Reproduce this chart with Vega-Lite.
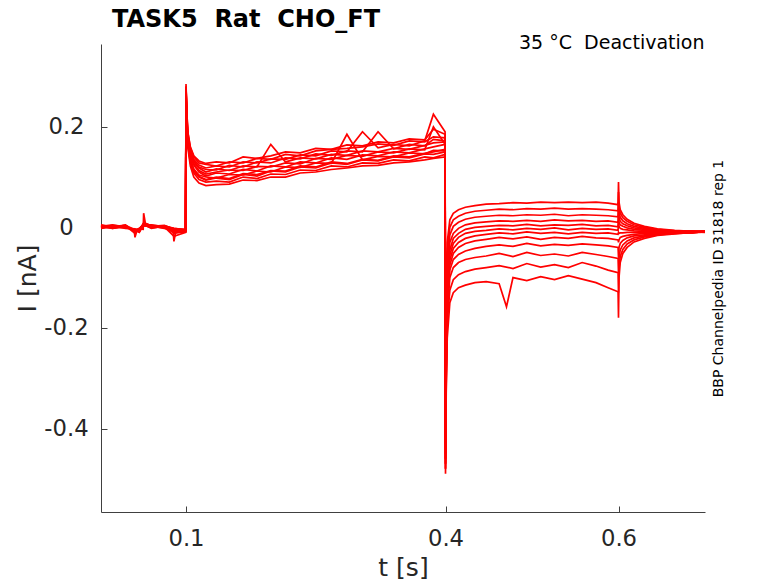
{
"$schema": "https://vega.github.io/schema/vega-lite/v6.json",
"width": 604,
"height": 468,
"autosize": {"type": "none"},
"padding": {"left": 101, "top": 44, "right": 73, "bottom": 71},
"title": {"text": "TASK5\u00a0 Rat\u00a0 CHO_FT", "anchor": "start", "frame": "group", "dx": 11, "offset": -17, "baseline": "alphabetic", "font": "DejaVu Sans", "fontSize": 24, "fontWeight": "bold", "color": "#000000"},
"config": {
  "view": {"stroke": null},
  "axis": {"grid": false, "labelFont": "DejaVu Sans", "titleFont": "DejaVu Sans", "labelColor": "#262626", "titleColor": "#262626", "domainColor": "#404040", "tickColor": "#404040", "domainWidth": 1, "tickWidth": 1, "titleFontWeight": "normal"}
},
"data": {"values": [
{"k":1,"t":0.0017,"i":0.003},{"k":1,"t":0.015,"i":0.001},{"k":1,"t":0.03,"i":0.004},{"k":1,"t":0.041,"i":-0.005},{"k":1,"t":0.046,"i":-0.003},{"k":1,"t":0.0505,"i":-0.004},{"k":1,"t":0.051,"i":0.028},{"k":1,"t":0.053,"i":0.008},{"k":1,"t":0.06,"i":0.003},{"k":1,"t":0.075,"i":0.001},{"k":1,"t":0.086,"i":-0.002},{"k":1,"t":0.0995,"i":-0.005},
{"k":1,"t":0.1,"i":0.285},{"k":1,"t":0.1008,"i":0.235},{"k":1,"t":0.102,"i":0.19},{"k":1,"t":0.105,"i":0.158},{"k":1,"t":0.109,"i":0.14},{"k":1,"t":0.115,"i":0.128},{"k":1,"t":0.123,"i":0.125},{"k":1,"t":0.135,"i":0.122},{"k":1,"t":0.15,"i":0.13},{"k":1,"t":0.166,"i":0.128},{"k":1,"t":0.182,"i":0.137},{"k":1,"t":0.198,"i":0.135},{"k":1,"t":0.215,"i":0.145},{"k":1,"t":0.232,"i":0.142},{"k":1,"t":0.25,"i":0.152},{"k":1,"t":0.268,"i":0.155},{"k":1,"t":0.286,"i":0.157},{"k":1,"t":0.304,"i":0.16},{"k":1,"t":0.322,"i":0.166},{"k":1,"t":0.34,"i":0.163},{"k":1,"t":0.358,"i":0.172},{"k":1,"t":0.376,"i":0.17},{"k":1,"t":0.386,"i":0.18},{"k":1,"t":0.3995,"i":0.178},
{"k":1,"t":0.4,"i":-0.4},{"k":1,"t":0.4008,"i":-0.15},{"k":1,"t":0.402,"i":-0.03},{"k":1,"t":0.405,"i":0.015},{"k":1,"t":0.409,"i":0.028},{"k":1,"t":0.415,"i":0.035},{"k":1,"t":0.423,"i":0.04},{"k":1,"t":0.434,"i":0.043},{"k":1,"t":0.447,"i":0.046},{"k":1,"t":0.462,"i":0.047},{"k":1,"t":0.478,"i":0.049},{"k":1,"t":0.494,"i":0.048},{"k":1,"t":0.51,"i":0.05},{"k":1,"t":0.526,"i":0.049},{"k":1,"t":0.542,"i":0.05},{"k":1,"t":0.558,"i":0.049},{"k":1,"t":0.574,"i":0.05},{"k":1,"t":0.588,"i":0.048},{"k":1,"t":0.5995,"i":0.045},
{"k":1,"t":0.6,"i":0.09},{"k":1,"t":0.6006,"i":0.05},{"k":1,"t":0.602,"i":0.035},{"k":1,"t":0.605,"i":0.025},{"k":1,"t":0.61,"i":0.016},{"k":1,"t":0.618,"i":0.008},{"k":1,"t":0.63,"i":0.002},{"k":1,"t":0.645,"i":-0.003},{"k":1,"t":0.665,"i":-0.006},{"k":1,"t":0.685,"i":-0.008},{"k":1,"t":0.7,"i":-0.007},
{"k":2,"t":0.0017,"i":-0.001},{"k":2,"t":0.015,"i":0.003},{"k":2,"t":0.03,"i":0.0},{"k":2,"t":0.04,"i":-0.004},{"k":2,"t":0.041,"i":-0.02},{"k":2,"t":0.043,"i":-0.008},{"k":2,"t":0.046,"i":-0.006},{"k":2,"t":0.051,"i":0.004},{"k":2,"t":0.06,"i":0.002},{"k":2,"t":0.075,"i":0.004},{"k":2,"t":0.086,"i":-0.004},{"k":2,"t":0.0995,"i":-0.007},
{"k":2,"t":0.1,"i":0.26},{"k":2,"t":0.1008,"i":0.21},{"k":2,"t":0.102,"i":0.165},{"k":2,"t":0.105,"i":0.128},{"k":2,"t":0.109,"i":0.108},{"k":2,"t":0.115,"i":0.095},{"k":2,"t":0.123,"i":0.09},{"k":2,"t":0.135,"i":0.092},{"k":2,"t":0.15,"i":0.09},{"k":2,"t":0.166,"i":0.1},{"k":2,"t":0.182,"i":0.097},{"k":2,"t":0.198,"i":0.106},{"k":2,"t":0.215,"i":0.105},{"k":2,"t":0.232,"i":0.114},{"k":2,"t":0.25,"i":0.113},{"k":2,"t":0.268,"i":0.122},{"k":2,"t":0.286,"i":0.12},{"k":2,"t":0.304,"i":0.128},{"k":2,"t":0.322,"i":0.127},{"k":2,"t":0.34,"i":0.134},{"k":2,"t":0.358,"i":0.132},{"k":2,"t":0.376,"i":0.14},{"k":2,"t":0.386,"i":0.138},{"k":2,"t":0.3995,"i":0.145},
{"k":2,"t":0.4,"i":-0.42},{"k":2,"t":0.4008,"i":-0.18},{"k":2,"t":0.402,"i":-0.05},{"k":2,"t":0.405,"i":0.0},{"k":2,"t":0.409,"i":0.015},{"k":2,"t":0.415,"i":0.022},{"k":2,"t":0.423,"i":0.028},{"k":2,"t":0.434,"i":0.032},{"k":2,"t":0.447,"i":0.034},{"k":2,"t":0.462,"i":0.036},{"k":2,"t":0.478,"i":0.035},{"k":2,"t":0.494,"i":0.037},{"k":2,"t":0.51,"i":0.036},{"k":2,"t":0.526,"i":0.038},{"k":2,"t":0.542,"i":0.036},{"k":2,"t":0.558,"i":0.037},{"k":2,"t":0.574,"i":0.036},{"k":2,"t":0.588,"i":0.035},{"k":2,"t":0.5995,"i":0.033},
{"k":2,"t":0.6,"i":0.07},{"k":2,"t":0.6006,"i":0.04},{"k":2,"t":0.602,"i":0.028},{"k":2,"t":0.605,"i":0.019},{"k":2,"t":0.61,"i":0.012},{"k":2,"t":0.618,"i":0.005},{"k":2,"t":0.63,"i":0.0},{"k":2,"t":0.645,"i":-0.004},{"k":2,"t":0.665,"i":-0.007},{"k":2,"t":0.685,"i":-0.009},{"k":2,"t":0.7,"i":-0.008},
{"k":3,"t":0.0017,"i":0.002},{"k":3,"t":0.015,"i":-0.002},{"k":3,"t":0.03,"i":0.003},{"k":3,"t":0.041,"i":-0.008},{"k":3,"t":0.046,"i":-0.004},{"k":3,"t":0.051,"i":0.006},{"k":3,"t":0.06,"i":0.004},{"k":3,"t":0.075,"i":0.0},{"k":3,"t":0.085,"i":-0.004},{"k":3,"t":0.086,"i":-0.028},{"k":3,"t":0.088,"i":-0.01},{"k":3,"t":0.0995,"i":-0.009},
{"k":3,"t":0.1,"i":0.275},{"k":3,"t":0.1008,"i":0.225},{"k":3,"t":0.102,"i":0.18},{"k":3,"t":0.105,"i":0.148},{"k":3,"t":0.109,"i":0.13},{"k":3,"t":0.115,"i":0.118},{"k":3,"t":0.123,"i":0.11},{"k":3,"t":0.135,"i":0.116},{"k":3,"t":0.15,"i":0.113},{"k":3,"t":0.166,"i":0.122},{"k":3,"t":0.182,"i":0.12},{"k":3,"t":0.198,"i":0.165},{"k":3,"t":0.215,"i":0.13},{"k":3,"t":0.232,"i":0.138},{"k":3,"t":0.25,"i":0.136},{"k":3,"t":0.268,"i":0.145},{"k":3,"t":0.286,"i":0.143},{"k":3,"t":0.304,"i":0.152},{"k":3,"t":0.322,"i":0.15},{"k":3,"t":0.34,"i":0.157},{"k":3,"t":0.358,"i":0.155},{"k":3,"t":0.376,"i":0.163},{"k":3,"t":0.386,"i":0.168},{"k":3,"t":0.3995,"i":0.17},
{"k":3,"t":0.4,"i":-0.43},{"k":3,"t":0.4008,"i":-0.2},{"k":3,"t":0.402,"i":-0.07},{"k":3,"t":0.405,"i":-0.015},{"k":3,"t":0.409,"i":0.002},{"k":3,"t":0.415,"i":0.01},{"k":3,"t":0.423,"i":0.016},{"k":3,"t":0.434,"i":0.02},{"k":3,"t":0.447,"i":0.022},{"k":3,"t":0.462,"i":0.024},{"k":3,"t":0.478,"i":0.023},{"k":3,"t":0.494,"i":0.025},{"k":3,"t":0.51,"i":0.024},{"k":3,"t":0.526,"i":0.026},{"k":3,"t":0.542,"i":0.023},{"k":3,"t":0.558,"i":0.025},{"k":3,"t":0.574,"i":0.024},{"k":3,"t":0.588,"i":0.023},{"k":3,"t":0.5995,"i":0.021},
{"k":3,"t":0.6,"i":0.05},{"k":3,"t":0.6006,"i":0.03},{"k":3,"t":0.602,"i":0.02},{"k":3,"t":0.605,"i":0.013},{"k":3,"t":0.61,"i":0.007},{"k":3,"t":0.618,"i":0.002},{"k":3,"t":0.63,"i":-0.002},{"k":3,"t":0.645,"i":-0.005},{"k":3,"t":0.665,"i":-0.008},{"k":3,"t":0.685,"i":-0.007},{"k":3,"t":0.7,"i":-0.009},
{"k":4,"t":0.0017,"i":0.004},{"k":4,"t":0.015,"i":0.002},{"k":4,"t":0.03,"i":-0.001},{"k":4,"t":0.041,"i":-0.004},{"k":4,"t":0.046,"i":-0.008},{"k":4,"t":0.051,"i":0.004},{"k":4,"t":0.06,"i":0.001},{"k":4,"t":0.075,"i":0.003},{"k":4,"t":0.086,"i":-0.003},{"k":4,"t":0.0995,"i":-0.004},
{"k":4,"t":0.1,"i":0.265},{"k":4,"t":0.1008,"i":0.215},{"k":4,"t":0.102,"i":0.17},{"k":4,"t":0.105,"i":0.135},{"k":4,"t":0.109,"i":0.116},{"k":4,"t":0.115,"i":0.104},{"k":4,"t":0.123,"i":0.1},{"k":4,"t":0.135,"i":0.098},{"k":4,"t":0.15,"i":0.105},{"k":4,"t":0.166,"i":0.104},{"k":4,"t":0.182,"i":0.112},{"k":4,"t":0.198,"i":0.11},{"k":4,"t":0.215,"i":0.12},{"k":4,"t":0.232,"i":0.119},{"k":4,"t":0.25,"i":0.128},{"k":4,"t":0.268,"i":0.127},{"k":4,"t":0.286,"i":0.185},{"k":4,"t":0.304,"i":0.134},{"k":4,"t":0.322,"i":0.141},{"k":4,"t":0.34,"i":0.14},{"k":4,"t":0.358,"i":0.148},{"k":4,"t":0.376,"i":0.146},{"k":4,"t":0.386,"i":0.153},{"k":4,"t":0.3995,"i":0.152},
{"k":4,"t":0.4,"i":-0.44},{"k":4,"t":0.4008,"i":-0.22},{"k":4,"t":0.402,"i":-0.09},{"k":4,"t":0.405,"i":-0.03},{"k":4,"t":0.409,"i":-0.012},{"k":4,"t":0.415,"i":-0.002},{"k":4,"t":0.423,"i":0.005},{"k":4,"t":0.434,"i":0.009},{"k":4,"t":0.447,"i":0.011},{"k":4,"t":0.462,"i":0.013},{"k":4,"t":0.478,"i":0.012},{"k":4,"t":0.494,"i":0.014},{"k":4,"t":0.51,"i":0.012},{"k":4,"t":0.526,"i":0.015},{"k":4,"t":0.542,"i":0.013},{"k":4,"t":0.558,"i":0.014},{"k":4,"t":0.574,"i":0.012},{"k":4,"t":0.588,"i":0.013},{"k":4,"t":0.5995,"i":0.01},
{"k":4,"t":0.6,"i":0.035},{"k":4,"t":0.6006,"i":0.02},{"k":4,"t":0.602,"i":0.012},{"k":4,"t":0.605,"i":0.007},{"k":4,"t":0.61,"i":0.003},{"k":4,"t":0.618,"i":-0.001},{"k":4,"t":0.63,"i":-0.004},{"k":4,"t":0.645,"i":-0.006},{"k":4,"t":0.665,"i":-0.009},{"k":4,"t":0.685,"i":-0.008},{"k":4,"t":0.7,"i":-0.008},
{"k":5,"t":0.0017,"i":0.0},{"k":5,"t":0.015,"i":0.004},{"k":5,"t":0.03,"i":0.002},{"k":5,"t":0.041,"i":-0.006},{"k":5,"t":0.046,"i":-0.002},{"k":5,"t":0.051,"i":0.005},{"k":5,"t":0.06,"i":-0.001},{"k":5,"t":0.075,"i":0.002},{"k":5,"t":0.086,"i":-0.012},{"k":5,"t":0.0995,"i":-0.008},
{"k":5,"t":0.1,"i":0.28},{"k":5,"t":0.1008,"i":0.23},{"k":5,"t":0.102,"i":0.185},{"k":5,"t":0.105,"i":0.152},{"k":5,"t":0.109,"i":0.135},{"k":5,"t":0.115,"i":0.124},{"k":5,"t":0.123,"i":0.118},{"k":5,"t":0.135,"i":0.122},{"k":5,"t":0.15,"i":0.12},{"k":5,"t":0.166,"i":0.13},{"k":5,"t":0.182,"i":0.128},{"k":5,"t":0.198,"i":0.136},{"k":5,"t":0.215,"i":0.135},{"k":5,"t":0.232,"i":0.144},{"k":5,"t":0.25,"i":0.142},{"k":5,"t":0.268,"i":0.152},{"k":5,"t":0.286,"i":0.15},{"k":5,"t":0.304,"i":0.19},{"k":5,"t":0.322,"i":0.158},{"k":5,"t":0.34,"i":0.165},{"k":5,"t":0.358,"i":0.162},{"k":5,"t":0.376,"i":0.172},{"k":5,"t":0.386,"i":0.225},{"k":5,"t":0.3995,"i":0.19},
{"k":5,"t":0.4,"i":-0.45},{"k":5,"t":0.4008,"i":-0.24},{"k":5,"t":0.402,"i":-0.11},{"k":5,"t":0.405,"i":-0.045},{"k":5,"t":0.409,"i":-0.022},{"k":5,"t":0.415,"i":-0.012},{"k":5,"t":0.423,"i":-0.004},{"k":5,"t":0.434,"i":0.0},{"k":5,"t":0.447,"i":0.002},{"k":5,"t":0.462,"i":0.004},{"k":5,"t":0.478,"i":0.003},{"k":5,"t":0.494,"i":0.006},{"k":5,"t":0.51,"i":0.003},{"k":5,"t":0.526,"i":0.005},{"k":5,"t":0.542,"i":0.004},{"k":5,"t":0.558,"i":0.006},{"k":5,"t":0.574,"i":0.003},{"k":5,"t":0.588,"i":0.004},{"k":5,"t":0.5995,"i":0.001},
{"k":5,"t":0.6,"i":0.02},{"k":5,"t":0.6006,"i":0.01},{"k":5,"t":0.602,"i":0.005},{"k":5,"t":0.605,"i":0.002},{"k":5,"t":0.61,"i":-0.001},{"k":5,"t":0.618,"i":-0.004},{"k":5,"t":0.63,"i":-0.006},{"k":5,"t":0.645,"i":-0.008},{"k":5,"t":0.665,"i":-0.007},{"k":5,"t":0.685,"i":-0.01},{"k":5,"t":0.7,"i":-0.008},
{"k":6,"t":0.0017,"i":0.003},{"k":6,"t":0.015,"i":-0.001},{"k":6,"t":0.03,"i":0.005},{"k":6,"t":0.041,"i":-0.01},{"k":6,"t":0.046,"i":-0.005},{"k":6,"t":0.051,"i":0.008},{"k":6,"t":0.06,"i":0.003},{"k":6,"t":0.075,"i":-0.002},{"k":6,"t":0.086,"i":-0.006},{"k":6,"t":0.0995,"i":-0.006},
{"k":6,"t":0.1,"i":0.255},{"k":6,"t":0.1008,"i":0.205},{"k":6,"t":0.102,"i":0.16},{"k":6,"t":0.105,"i":0.122},{"k":6,"t":0.109,"i":0.1},{"k":6,"t":0.115,"i":0.088},{"k":6,"t":0.123,"i":0.083},{"k":6,"t":0.135,"i":0.085},{"k":6,"t":0.15,"i":0.086},{"k":6,"t":0.166,"i":0.094},{"k":6,"t":0.182,"i":0.093},{"k":6,"t":0.198,"i":0.1},{"k":6,"t":0.215,"i":0.1},{"k":6,"t":0.232,"i":0.108},{"k":6,"t":0.25,"i":0.11},{"k":6,"t":0.268,"i":0.115},{"k":6,"t":0.286,"i":0.118},{"k":6,"t":0.304,"i":0.122},{"k":6,"t":0.322,"i":0.123},{"k":6,"t":0.34,"i":0.128},{"k":6,"t":0.358,"i":0.13},{"k":6,"t":0.376,"i":0.134},{"k":6,"t":0.386,"i":0.137},{"k":6,"t":0.3995,"i":0.14},
{"k":6,"t":0.4,"i":-0.46},{"k":6,"t":0.4008,"i":-0.26},{"k":6,"t":0.402,"i":-0.12},{"k":6,"t":0.405,"i":-0.055},{"k":6,"t":0.409,"i":-0.032},{"k":6,"t":0.415,"i":-0.02},{"k":6,"t":0.423,"i":-0.012},{"k":6,"t":0.434,"i":-0.008},{"k":6,"t":0.447,"i":-0.006},{"k":6,"t":0.462,"i":-0.003},{"k":6,"t":0.478,"i":-0.005},{"k":6,"t":0.494,"i":-0.002},{"k":6,"t":0.51,"i":-0.004},{"k":6,"t":0.526,"i":-0.001},{"k":6,"t":0.542,"i":-0.005},{"k":6,"t":0.558,"i":-0.002},{"k":6,"t":0.574,"i":-0.004},{"k":6,"t":0.588,"i":-0.003},{"k":6,"t":0.5995,"i":-0.006},
{"k":6,"t":0.6,"i":0.01},{"k":6,"t":0.6006,"i":0.002},{"k":6,"t":0.602,"i":-0.002},{"k":6,"t":0.605,"i":-0.004},{"k":6,"t":0.61,"i":-0.005},{"k":6,"t":0.618,"i":-0.007},{"k":6,"t":0.63,"i":-0.008},{"k":6,"t":0.645,"i":-0.009},{"k":6,"t":0.665,"i":-0.01},{"k":6,"t":0.685,"i":-0.008},{"k":6,"t":0.7,"i":-0.009},
{"k":7,"t":0.0017,"i":0.001},{"k":7,"t":0.015,"i":0.003},{"k":7,"t":0.03,"i":-0.002},{"k":7,"t":0.041,"i":-0.003},{"k":7,"t":0.046,"i":-0.007},{"k":7,"t":0.051,"i":0.003},{"k":7,"t":0.06,"i":0.005},{"k":7,"t":0.075,"i":0.001},{"k":7,"t":0.086,"i":-0.018},{"k":7,"t":0.0995,"i":-0.01},
{"k":7,"t":0.1,"i":0.27},{"k":7,"t":0.1008,"i":0.22},{"k":7,"t":0.102,"i":0.175},{"k":7,"t":0.105,"i":0.14},{"k":7,"t":0.109,"i":0.124},{"k":7,"t":0.115,"i":0.11},{"k":7,"t":0.123,"i":0.102},{"k":7,"t":0.135,"i":0.108},{"k":7,"t":0.15,"i":0.106},{"k":7,"t":0.166,"i":0.115},{"k":7,"t":0.182,"i":0.112},{"k":7,"t":0.198,"i":0.122},{"k":7,"t":0.215,"i":0.12},{"k":7,"t":0.232,"i":0.13},{"k":7,"t":0.25,"i":0.128},{"k":7,"t":0.268,"i":0.138},{"k":7,"t":0.286,"i":0.135},{"k":7,"t":0.304,"i":0.144},{"k":7,"t":0.322,"i":0.142},{"k":7,"t":0.34,"i":0.15},{"k":7,"t":0.358,"i":0.148},{"k":7,"t":0.376,"i":0.156},{"k":7,"t":0.386,"i":0.16},{"k":7,"t":0.3995,"i":0.165},
{"k":7,"t":0.4,"i":-0.46},{"k":7,"t":0.4008,"i":-0.27},{"k":7,"t":0.402,"i":-0.13},{"k":7,"t":0.405,"i":-0.065},{"k":7,"t":0.409,"i":-0.042},{"k":7,"t":0.415,"i":-0.03},{"k":7,"t":0.423,"i":-0.022},{"k":7,"t":0.434,"i":-0.017},{"k":7,"t":0.447,"i":-0.014},{"k":7,"t":0.462,"i":-0.011},{"k":7,"t":0.478,"i":-0.013},{"k":7,"t":0.494,"i":-0.009},{"k":7,"t":0.51,"i":-0.012},{"k":7,"t":0.526,"i":-0.01},{"k":7,"t":0.542,"i":-0.013},{"k":7,"t":0.558,"i":-0.01},{"k":7,"t":0.574,"i":-0.012},{"k":7,"t":0.588,"i":-0.011},{"k":7,"t":0.5995,"i":-0.014},
{"k":7,"t":0.6,"i":-0.01},{"k":7,"t":0.6006,"i":-0.012},{"k":7,"t":0.602,"i":-0.011},{"k":7,"t":0.605,"i":-0.011},{"k":7,"t":0.61,"i":-0.01},{"k":7,"t":0.618,"i":-0.01},{"k":7,"t":0.63,"i":-0.01},{"k":7,"t":0.645,"i":-0.011},{"k":7,"t":0.665,"i":-0.009},{"k":7,"t":0.685,"i":-0.01},{"k":7,"t":0.7,"i":-0.008},
{"k":8,"t":0.0017,"i":-0.002},{"k":8,"t":0.015,"i":0.001},{"k":8,"t":0.03,"i":0.003},{"k":8,"t":0.041,"i":-0.012},{"k":8,"t":0.046,"i":-0.003},{"k":8,"t":0.051,"i":0.007},{"k":8,"t":0.06,"i":0.0},{"k":8,"t":0.075,"i":0.003},{"k":8,"t":0.086,"i":-0.002},{"k":8,"t":0.0995,"i":-0.005},
{"k":8,"t":0.1,"i":0.278},{"k":8,"t":0.1008,"i":0.228},{"k":8,"t":0.102,"i":0.183},{"k":8,"t":0.105,"i":0.15},{"k":8,"t":0.109,"i":0.132},{"k":8,"t":0.115,"i":0.12},{"k":8,"t":0.123,"i":0.115},{"k":8,"t":0.135,"i":0.114},{"k":8,"t":0.15,"i":0.123},{"k":8,"t":0.166,"i":0.12},{"k":8,"t":0.182,"i":0.13},{"k":8,"t":0.198,"i":0.128},{"k":8,"t":0.215,"i":0.138},{"k":8,"t":0.232,"i":0.136},{"k":8,"t":0.25,"i":0.146},{"k":8,"t":0.268,"i":0.143},{"k":8,"t":0.286,"i":0.152},{"k":8,"t":0.304,"i":0.15},{"k":8,"t":0.322,"i":0.19},{"k":8,"t":0.34,"i":0.156},{"k":8,"t":0.358,"i":0.165},{"k":8,"t":0.376,"i":0.162},{"k":8,"t":0.386,"i":0.175},{"k":8,"t":0.3995,"i":0.172},
{"k":8,"t":0.4,"i":-0.47},{"k":8,"t":0.4008,"i":-0.28},{"k":8,"t":0.402,"i":-0.14},{"k":8,"t":0.405,"i":-0.075},{"k":8,"t":0.409,"i":-0.052},{"k":8,"t":0.415,"i":-0.04},{"k":8,"t":0.423,"i":-0.032},{"k":8,"t":0.434,"i":-0.027},{"k":8,"t":0.447,"i":-0.024},{"k":8,"t":0.462,"i":-0.02},{"k":8,"t":0.478,"i":-0.023},{"k":8,"t":0.494,"i":-0.019},{"k":8,"t":0.51,"i":-0.024},{"k":8,"t":0.526,"i":-0.02},{"k":8,"t":0.542,"i":-0.022},{"k":8,"t":0.558,"i":-0.018},{"k":8,"t":0.574,"i":-0.021},{"k":8,"t":0.588,"i":-0.022},{"k":8,"t":0.5995,"i":-0.025},
{"k":8,"t":0.6,"i":-0.03},{"k":8,"t":0.6006,"i":-0.025},{"k":8,"t":0.602,"i":-0.02},{"k":8,"t":0.605,"i":-0.018},{"k":8,"t":0.61,"i":-0.016},{"k":8,"t":0.618,"i":-0.014},{"k":8,"t":0.63,"i":-0.012},{"k":8,"t":0.645,"i":-0.012},{"k":8,"t":0.665,"i":-0.011},{"k":8,"t":0.685,"i":-0.009},{"k":8,"t":0.7,"i":-0.01},
{"k":9,"t":0.0017,"i":0.002},{"k":9,"t":0.015,"i":0.005},{"k":9,"t":0.03,"i":0.0},{"k":9,"t":0.041,"i":-0.005},{"k":9,"t":0.046,"i":-0.009},{"k":9,"t":0.051,"i":0.004},{"k":9,"t":0.06,"i":0.002},{"k":9,"t":0.075,"i":-0.001},{"k":9,"t":0.086,"i":-0.008},{"k":9,"t":0.0995,"i":-0.008},
{"k":9,"t":0.1,"i":0.262},{"k":9,"t":0.1008,"i":0.212},{"k":9,"t":0.102,"i":0.168},{"k":9,"t":0.105,"i":0.132},{"k":9,"t":0.109,"i":0.112},{"k":9,"t":0.115,"i":0.1},{"k":9,"t":0.123,"i":0.094},{"k":9,"t":0.135,"i":0.098},{"k":9,"t":0.15,"i":0.095},{"k":9,"t":0.166,"i":0.105},{"k":9,"t":0.182,"i":0.102},{"k":9,"t":0.198,"i":0.112},{"k":9,"t":0.215,"i":0.11},{"k":9,"t":0.232,"i":0.12},{"k":9,"t":0.25,"i":0.118},{"k":9,"t":0.268,"i":0.128},{"k":9,"t":0.286,"i":0.125},{"k":9,"t":0.304,"i":0.134},{"k":9,"t":0.322,"i":0.132},{"k":9,"t":0.34,"i":0.14},{"k":9,"t":0.358,"i":0.138},{"k":9,"t":0.376,"i":0.146},{"k":9,"t":0.386,"i":0.145},{"k":9,"t":0.3995,"i":0.15},
{"k":9,"t":0.4,"i":-0.47},{"k":9,"t":0.4008,"i":-0.29},{"k":9,"t":0.402,"i":-0.15},{"k":9,"t":0.405,"i":-0.085},{"k":9,"t":0.409,"i":-0.064},{"k":9,"t":0.415,"i":-0.054},{"k":9,"t":0.423,"i":-0.047},{"k":9,"t":0.434,"i":-0.042},{"k":9,"t":0.447,"i":-0.038},{"k":9,"t":0.462,"i":-0.035},{"k":9,"t":0.478,"i":-0.038},{"k":9,"t":0.494,"i":-0.032},{"k":9,"t":0.51,"i":-0.037},{"k":9,"t":0.526,"i":-0.034},{"k":9,"t":0.542,"i":-0.036},{"k":9,"t":0.558,"i":-0.033},{"k":9,"t":0.574,"i":-0.035},{"k":9,"t":0.588,"i":-0.037},{"k":9,"t":0.5995,"i":-0.04},
{"k":9,"t":0.6,"i":-0.06},{"k":9,"t":0.6006,"i":-0.04},{"k":9,"t":0.602,"i":-0.032},{"k":9,"t":0.605,"i":-0.026},{"k":9,"t":0.61,"i":-0.021},{"k":9,"t":0.618,"i":-0.017},{"k":9,"t":0.63,"i":-0.015},{"k":9,"t":0.645,"i":-0.013},{"k":9,"t":0.665,"i":-0.01},{"k":9,"t":0.685,"i":-0.011},{"k":9,"t":0.7,"i":-0.009},
{"k":10,"t":0.0017,"i":0.005},{"k":10,"t":0.015,"i":0.0},{"k":10,"t":0.03,"i":0.002},{"k":10,"t":0.041,"i":-0.007},{"k":10,"t":0.046,"i":-0.004},{"k":10,"t":0.051,"i":0.006},{"k":10,"t":0.06,"i":0.004},{"k":10,"t":0.075,"i":0.002},{"k":10,"t":0.086,"i":-0.004},{"k":10,"t":0.0995,"i":-0.006},
{"k":10,"t":0.1,"i":0.272},{"k":10,"t":0.1008,"i":0.222},{"k":10,"t":0.102,"i":0.178},{"k":10,"t":0.105,"i":0.143},{"k":10,"t":0.109,"i":0.126},{"k":10,"t":0.115,"i":0.113},{"k":10,"t":0.123,"i":0.106},{"k":10,"t":0.135,"i":0.11},{"k":10,"t":0.15,"i":0.114},{"k":10,"t":0.166,"i":0.113},{"k":10,"t":0.182,"i":0.121},{"k":10,"t":0.198,"i":0.12},{"k":10,"t":0.215,"i":0.128},{"k":10,"t":0.232,"i":0.126},{"k":10,"t":0.25,"i":0.137},{"k":10,"t":0.268,"i":0.135},{"k":10,"t":0.286,"i":0.143},{"k":10,"t":0.304,"i":0.141},{"k":10,"t":0.322,"i":0.15},{"k":10,"t":0.34,"i":0.148},{"k":10,"t":0.358,"i":0.156},{"k":10,"t":0.376,"i":0.154},{"k":10,"t":0.386,"i":0.2},{"k":10,"t":0.3995,"i":0.165},
{"k":10,"t":0.4,"i":-0.48},{"k":10,"t":0.4008,"i":-0.3},{"k":10,"t":0.402,"i":-0.17},{"k":10,"t":0.405,"i":-0.1},{"k":10,"t":0.409,"i":-0.08},{"k":10,"t":0.415,"i":-0.07},{"k":10,"t":0.423,"i":-0.064},{"k":10,"t":0.434,"i":-0.06},{"k":10,"t":0.447,"i":-0.057},{"k":10,"t":0.462,"i":-0.052},{"k":10,"t":0.478,"i":-0.058},{"k":10,"t":0.494,"i":-0.05},{"k":10,"t":0.51,"i":-0.056},{"k":10,"t":0.526,"i":-0.053},{"k":10,"t":0.542,"i":-0.057},{"k":10,"t":0.558,"i":-0.05},{"k":10,"t":0.574,"i":-0.054},{"k":10,"t":0.588,"i":-0.058},{"k":10,"t":0.5995,"i":-0.062},
{"k":10,"t":0.6,"i":-0.09},{"k":10,"t":0.6006,"i":-0.06},{"k":10,"t":0.602,"i":-0.045},{"k":10,"t":0.605,"i":-0.035},{"k":10,"t":0.61,"i":-0.027},{"k":10,"t":0.618,"i":-0.021},{"k":10,"t":0.63,"i":-0.017},{"k":10,"t":0.645,"i":-0.014},{"k":10,"t":0.665,"i":-0.012},{"k":10,"t":0.685,"i":-0.01},{"k":10,"t":0.7,"i":-0.009},
{"k":11,"t":0.0017,"i":0.001},{"k":11,"t":0.015,"i":0.002},{"k":11,"t":0.03,"i":0.004},{"k":11,"t":0.041,"i":-0.009},{"k":11,"t":0.046,"i":-0.006},{"k":11,"t":0.051,"i":0.005},{"k":11,"t":0.06,"i":-0.002},{"k":11,"t":0.075,"i":0.003},{"k":11,"t":0.086,"i":-0.01},{"k":11,"t":0.0995,"i":-0.009},
{"k":11,"t":0.1,"i":0.264},{"k":11,"t":0.1008,"i":0.214},{"k":11,"t":0.102,"i":0.17},{"k":11,"t":0.105,"i":0.134},{"k":11,"t":0.109,"i":0.114},{"k":11,"t":0.115,"i":0.101},{"k":11,"t":0.123,"i":0.095},{"k":11,"t":0.135,"i":0.1},{"k":11,"t":0.15,"i":0.097},{"k":11,"t":0.166,"i":0.107},{"k":11,"t":0.182,"i":0.105},{"k":11,"t":0.198,"i":0.113},{"k":11,"t":0.215,"i":0.112},{"k":11,"t":0.232,"i":0.122},{"k":11,"t":0.25,"i":0.12},{"k":11,"t":0.268,"i":0.13},{"k":11,"t":0.286,"i":0.127},{"k":11,"t":0.304,"i":0.135},{"k":11,"t":0.322,"i":0.133},{"k":11,"t":0.34,"i":0.142},{"k":11,"t":0.358,"i":0.14},{"k":11,"t":0.376,"i":0.147},{"k":11,"t":0.386,"i":0.15},{"k":11,"t":0.3995,"i":0.155},
{"k":11,"t":0.4,"i":-0.48},{"k":11,"t":0.4008,"i":-0.31},{"k":11,"t":0.402,"i":-0.19},{"k":11,"t":0.405,"i":-0.125},{"k":11,"t":0.409,"i":-0.104},{"k":11,"t":0.415,"i":-0.094},{"k":11,"t":0.423,"i":-0.088},{"k":11,"t":0.434,"i":-0.083},{"k":11,"t":0.447,"i":-0.08},{"k":11,"t":0.462,"i":-0.076},{"k":11,"t":0.478,"i":-0.082},{"k":11,"t":0.494,"i":-0.072},{"k":11,"t":0.51,"i":-0.079},{"k":11,"t":0.526,"i":-0.074},{"k":11,"t":0.542,"i":-0.08},{"k":11,"t":0.558,"i":-0.07},{"k":11,"t":0.574,"i":-0.077},{"k":11,"t":0.588,"i":-0.085},{"k":11,"t":0.5995,"i":-0.09},
{"k":11,"t":0.6,"i":-0.13},{"k":11,"t":0.6006,"i":-0.08},{"k":11,"t":0.602,"i":-0.058},{"k":11,"t":0.605,"i":-0.044},{"k":11,"t":0.61,"i":-0.033},{"k":11,"t":0.618,"i":-0.025},{"k":11,"t":0.63,"i":-0.019},{"k":11,"t":0.645,"i":-0.015},{"k":11,"t":0.665,"i":-0.012},{"k":11,"t":0.685,"i":-0.011},{"k":11,"t":0.7,"i":-0.008},
{"k":12,"t":0.0017,"i":0.003},{"k":12,"t":0.015,"i":-0.002},{"k":12,"t":0.03,"i":0.001},{"k":12,"t":0.041,"i":-0.006},{"k":12,"t":0.046,"i":-0.01},{"k":12,"t":0.051,"i":0.009},{"k":12,"t":0.06,"i":0.003},{"k":12,"t":0.075,"i":0.0},{"k":12,"t":0.086,"i":-0.005},{"k":12,"t":0.0995,"i":-0.007},
{"k":12,"t":0.1,"i":0.28},{"k":12,"t":0.1008,"i":0.235},{"k":12,"t":0.102,"i":0.19},{"k":12,"t":0.105,"i":0.16},{"k":12,"t":0.109,"i":0.142},{"k":12,"t":0.115,"i":0.132},{"k":12,"t":0.123,"i":0.127},{"k":12,"t":0.135,"i":0.13},{"k":12,"t":0.15,"i":0.128},{"k":12,"t":0.166,"i":0.14},{"k":12,"t":0.182,"i":0.137},{"k":12,"t":0.198,"i":0.142},{"k":12,"t":0.215,"i":0.15},{"k":12,"t":0.232,"i":0.148},{"k":12,"t":0.25,"i":0.157},{"k":12,"t":0.268,"i":0.155},{"k":12,"t":0.286,"i":0.164},{"k":12,"t":0.304,"i":0.162},{"k":12,"t":0.322,"i":0.17},{"k":12,"t":0.34,"i":0.168},{"k":12,"t":0.358,"i":0.176},{"k":12,"t":0.376,"i":0.174},{"k":12,"t":0.386,"i":0.195},{"k":12,"t":0.3995,"i":0.185},
{"k":12,"t":0.4,"i":-0.49},{"k":12,"t":0.4008,"i":-0.33},{"k":12,"t":0.402,"i":-0.22},{"k":12,"t":0.405,"i":-0.15},{"k":12,"t":0.409,"i":-0.13},{"k":12,"t":0.415,"i":-0.12},{"k":12,"t":0.423,"i":-0.115},{"k":12,"t":0.434,"i":-0.11},{"k":12,"t":0.447,"i":-0.108},{"k":12,"t":0.462,"i":-0.112},{"k":12,"t":0.4705,"i":-0.158},{"k":12,"t":0.478,"i":-0.1},{"k":12,"t":0.494,"i":-0.106},{"k":12,"t":0.51,"i":-0.098},{"k":12,"t":0.526,"i":-0.104},{"k":12,"t":0.542,"i":-0.096},{"k":12,"t":0.558,"i":-0.103},{"k":12,"t":0.574,"i":-0.11},{"k":12,"t":0.588,"i":-0.12},{"k":12,"t":0.5995,"i":-0.128},
{"k":12,"t":0.6,"i":-0.18},{"k":12,"t":0.6006,"i":-0.1},{"k":12,"t":0.602,"i":-0.07},{"k":12,"t":0.605,"i":-0.052},{"k":12,"t":0.61,"i":-0.04},{"k":12,"t":0.618,"i":-0.029},{"k":12,"t":0.63,"i":-0.022},{"k":12,"t":0.645,"i":-0.016},{"k":12,"t":0.665,"i":-0.013},{"k":12,"t":0.685,"i":-0.01},{"k":12,"t":0.7,"i":-0.009}
]},
"layer": [
  {
    "mark": {"type": "line", "color": "#ff0000", "strokeWidth": 1.7},
    "encoding": {
      "x": {"field": "t", "type": "quantitative", "scale": {"domain": [0.0017, 0.7], "nice": false, "zero": false},
        "axis": {"values": [0.1, 0.4, 0.6], "format": ".1f", "title": "t [s]", "labelFontSize": 22.7, "titleFontSize": 25, "tickSize": -6, "labelPadding": 21.5, "labelBaseline": "top", "titleX": 302, "titleY": 63, "titleAlign": "center", "titleBaseline": "alphabetic"}},
      "y": {"field": "i", "type": "quantitative", "scale": {"domain": [-0.566, 0.3645], "nice": false, "zero": false},
        "axis": {"values": [-0.4, -0.2, 0, 0.2], "labelExpr": "datum.value == 0 ? '0' : (datum.value < 0 ? '-' + format(-datum.value, '.1f') : format(datum.value, '.1f'))", "title": "I [nA]", "labelFontSize": 22.7, "labelAlign": "center", "labelBaseline": "middle", "titleFontSize": 25, "tickSize": -6, "labelPadding": 41, "titleAngle": 270, "titleX": -65.3, "titleY": 234, "titleAlign": "center", "titleBaseline": "alphabetic"}},
      "detail": {"field": "k", "type": "nominal"}
    }
  },
  {
    "mark": {"type": "line", "strokeOpacity": 0},
    "encoding": {
      "x": {"field": "t", "type": "quantitative", "scale": {"domain": [0.0017, 0.7], "nice": false, "zero": false},
        "axis": {"orient": "top", "domain": false, "ticks": false, "labels": false, "title": "35 °C\u00a0 Deactivation", "titleFontSize": 19, "titleColor": "#000000", "titleAnchor": "end", "titleAlign": "right", "titleX": 603, "titleY": 4.5, "titleBaseline": "alphabetic"}},
      "y": {"field": "i", "type": "quantitative", "scale": {"domain": [-0.566, 0.3645], "nice": false, "zero": false},
        "axis": {"orient": "right", "domain": false, "ticks": false, "labels": false, "title": "BBP Channelpedia ID 31818 rep 1", "titleFontSize": 14, "titleColor": "#000000", "titleAngle": 270, "titleX": 17.3, "titleY": 234, "titleAlign": "center", "titleBaseline": "alphabetic"}},
      "detail": {"field": "k", "type": "nominal"}
    }
  }
],
"resolve": {"axis": {"x": "independent", "y": "independent"}}
}
